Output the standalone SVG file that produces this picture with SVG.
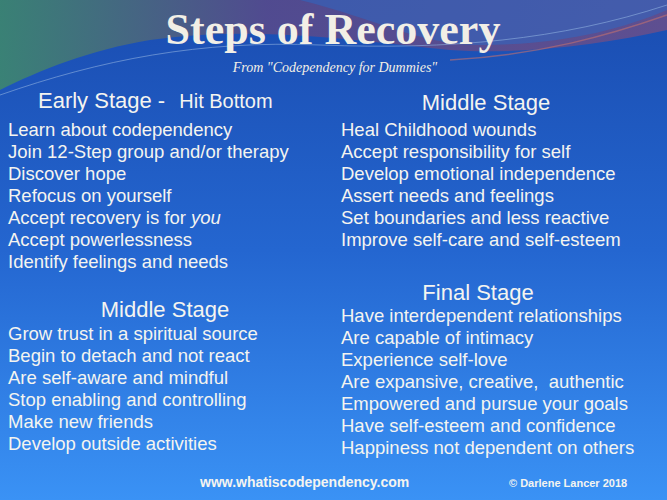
<svg xmlns="http://www.w3.org/2000/svg" width="667" height="500" viewBox="0 0 667 500">
<defs>
<linearGradient id="bg" x1="0" y1="0" x2="0" y2="1"><stop offset="0" stop-color="#1a4cb0"/><stop offset="0.5" stop-color="#2466d0"/><stop offset="1" stop-color="#3a92f5"/></linearGradient>
<linearGradient id="sw" x1="0" y1="0" x2="1" y2="0"><stop offset="0" stop-color="#3f8a6a"/><stop offset="0.4" stop-color="#5a4a8a"/><stop offset="1" stop-color="#6a4f8a"/></linearGradient>
</defs>
<style>
.t{font-family:"Liberation Sans",Arial,sans-serif;fill:#f4f4f0;font-size:18.5px}
.h{font-family:"Liberation Sans",Arial,sans-serif;fill:#f4f4f0;font-size:22px}
.f{font-family:"Liberation Sans",Arial,sans-serif;fill:#f4f4f0;font-weight:bold}
</style>
<rect width="667" height="500" fill="url(#bg)"/>
<path d="M0 0 H667 V30 C600 45 520 55 450 50 C350 40 250 25 150 40 C90 50 40 70 0 90 Z" fill="url(#sw)" opacity="0.85"/>
<path d="M300 0 H667 V10 C620 30 560 45 480 45 C420 45 380 20 300 0 Z" fill="#2a6ac8" opacity="0.5"/>
<path d="M0 95 C100 60 200 40 320 45 C450 50 560 40 667 5" fill="none" stroke="#8fb0e0" stroke-width="1" opacity="0.6"/>
<path d="M450 60 C540 55 610 35 667 15" fill="none" stroke="#c07070" stroke-width="1.5" opacity="0.6"/>
<text x="333" y="44" text-anchor="middle" style="font-family:'Liberation Serif',serif;font-weight:bold;font-size:44px;fill:#f2efe6">Steps of Recovery</text>
<text x="335" y="72" text-anchor="middle" style="font-family:'Liberation Serif',serif;font-style:italic;font-size:14px;fill:#f2efe6">From "Codependency for Dummies"</text>
<g id="early">
<text class="h" x="38" y="108">Early Stage - <tspan font-size="20" dx="8">Hit Bottom</tspan></text>
<text class="t" x="8" y="136">Learn about codependency</text>
<text class="t" x="8" y="158">Join 12-Step group and/or therapy</text>
<text class="t" x="8" y="180">Discover hope</text>
<text class="t" x="8" y="202">Refocus on yourself</text>
<text class="t" x="8" y="224">Accept recovery is for <tspan font-style="italic">you</tspan></text>
<text class="t" x="8" y="246">Accept powerlessness</text>
<text class="t" x="8" y="268">Identify feelings and needs</text>
</g>
<g id="middle2">
<text class="h" x="165" y="317" text-anchor="middle">Middle Stage</text>
<text class="t" x="8" y="340">Grow trust in a spiritual source</text>
<text class="t" x="8" y="362">Begin to detach and not react</text>
<text class="t" x="8" y="384">Are self-aware and mindful</text>
<text class="t" x="8" y="406">Stop enabling and controlling</text>
<text class="t" x="8" y="428">Make new friends</text>
<text class="t" x="8" y="450">Develop outside activities</text>
</g>
<g id="middle">
<text class="h" x="486" y="110" text-anchor="middle">Middle Stage</text>
<text class="t" x="341" y="136">Heal Childhood wounds</text>
<text class="t" x="341" y="158">Accept responsibility for self</text>
<text class="t" x="341" y="180">Develop emotional independence</text>
<text class="t" x="341" y="202">Assert needs and feelings</text>
<text class="t" x="341" y="224">Set boundaries and less reactive</text>
<text class="t" x="341" y="246">Improve self-care and self-esteem</text>
</g>
<g id="final">
<text class="h" x="478" y="300" text-anchor="middle">Final Stage</text>
<text class="t" x="341" y="322">Have interdependent relationships</text>
<text class="t" x="341" y="344">Are capable of intimacy</text>
<text class="t" x="341" y="366">Experience self-love</text>
<text class="t" x="341" y="388" xml:space="preserve">Are expansive, creative,  authentic</text>
<text class="t" x="341" y="410">Empowered and pursue your goals</text>
<text class="t" x="341" y="432">Have self-esteem and confidence</text>
<text class="t" x="341" y="454">Happiness not dependent on others</text>
</g>
<text class="f" x="200" y="487" font-size="14">www.whatiscodependency.com</text>
<text class="f" x="509" y="487" font-size="11">© Darlene Lancer 2018</text>
</svg>
